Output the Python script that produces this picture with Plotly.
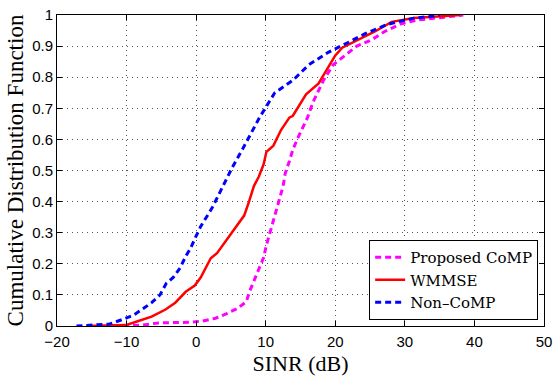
import plotly.graph_objects as go

# Proposed CoMP
prop_x = [-10.5, -7.8, -5.4, -3.6, -0.9, 0.9, 2.8, 4.4, 5.9, 7.2, 7.7, 8.4, 9.0, 9.7, 10.1, 10.5, 11.0, 11.5, 12.0,
          12.5, 12.8, 13.4, 13.9, 14.6, 15.3, 16.0, 16.8, 18.3, 19.7, 21.4, 23.1, 25.2, 27.1, 29.5, 31.8, 35.6, 38.4]
prop_y = [0.0, 0.003, 0.01, 0.01, 0.012, 0.016, 0.025, 0.04, 0.056, 0.078, 0.112, 0.15, 0.185, 0.22, 0.26, 0.29,
          0.33, 0.37, 0.41, 0.45, 0.49, 0.53, 0.567, 0.604, 0.64, 0.67, 0.72, 0.79, 0.84, 0.87, 0.90, 0.92, 0.947,
          0.972, 0.984, 0.993, 1.0]

# WMMSE
wm_x = [-15.8, -13.0, -10.1, -8.3, -6.4, -4.4, -3.0, -1.5, -0.2, 0.65, 1.6, 2.1, 3.0, 4.2, 5.5, 6.9, 7.6, 8.3, 9.0,
        9.7, 10.1, 11.1, 12.2, 13.4, 13.9, 15.8, 17.6, 19.0, 20.0, 21.0, 22.9, 25.7, 28.1, 31.3, 38.0]
wm_y = [0.0, 0.001, 0.003, 0.016, 0.03, 0.053, 0.075, 0.11, 0.13, 0.156, 0.2, 0.218, 0.234, 0.27, 0.31, 0.355, 0.40,
        0.45, 0.48, 0.52, 0.56, 0.58, 0.63, 0.67, 0.676, 0.745, 0.78, 0.83, 0.87, 0.895, 0.915, 0.947, 0.978, 0.99, 1.0]

# Non-CoMP
nc_x = [-17.2, -15.0, -12.5, -10.7, -9.0, -7.6, -6.4, -5.2, -4.3, -3.3, -2.3, -1.5, -0.8, -0.2, 0.65, 2.3, 3.8, 5.2,
        6.7, 8.3, 9.1, 11.3, 13.9, 16.2, 19.0, 21.7, 24.3, 27.5, 31.3, 33.5, 35.0]
nc_y = [0.0, 0.003, 0.006, 0.02, 0.035, 0.056, 0.075, 0.1, 0.137, 0.156, 0.187, 0.224, 0.25, 0.28, 0.32, 0.38, 0.45,
        0.51, 0.57, 0.64, 0.67, 0.75, 0.79, 0.84, 0.88, 0.91, 0.94, 0.97, 0.99, 0.995, 1.0]

x_ticks = [-20, -10, 0, 10, 20, 30, 40, 50]
y_ticks = [0, 0.1, 0.2, 0.3, 0.4, 0.5, 0.6, 0.7, 0.8, 0.9, 1]
y_labels = ["0", "0.1", "0.2", "0.3", "0.4", "0.5", "0.6", "0.7", "0.8", "0.9", "1"]

fig = go.Figure()
fig.add_trace(go.Scatter(x=prop_x, y=prop_y, mode="lines", name="Proposed CoMP",
                         line=dict(color="#ff00ff", width=3, dash="6px,4px")))
fig.add_trace(go.Scatter(x=wm_x, y=wm_y, mode="lines", name="WMMSE",
                         line=dict(color="#ff0000", width=2.5)))
fig.add_trace(go.Scatter(x=nc_x, y=nc_y, mode="lines", name="Non\u2013CoMP",
                         line=dict(color="#0000ff", width=3, dash="6px,4px")))

axis_common = dict(showline=True, linecolor="black", linewidth=1, mirror="allticks",
                   ticks="inside", ticklen=5, tickcolor="black",
                   showgrid=True, gridcolor="#555555", gridwidth=1, griddash="1px,4px",
                   zeroline=False, ticklabeloverflow="allow",
                   tickfont=dict(family="Liberation Sans", size=15, color="black"))

fig.update_xaxes(range=[-20, 50], tickvals=x_ticks, ticklabelstandoff=2,
                 title=dict(text="SINR (dB)", font=dict(family="Liberation Serif", size=22, color="black"),
                            standoff=6),
                 **axis_common)
fig.update_yaxes(range=[0, 1], tickvals=y_ticks, ticktext=y_labels,
                 title=dict(text="Cumulative Distribution Function",
                            font=dict(family="Liberation Serif", size=23, color="black"), standoff=2),
                 **axis_common)

fig.update_layout(
    width=558, height=377,
    margin=dict(l=57, r=6, t=6, b=50),
    plot_bgcolor="white", paper_bgcolor="white",
    legend=dict(x=0.988, y=0.019, xanchor="right", yanchor="bottom",
                bgcolor="white", bordercolor="black", borderwidth=1,
                font=dict(family="DejaVu Serif", size=15, color="black"),
                tracegroupgap=0, itemwidth=30),
    showlegend=True,
)

fig.write_html("out.html")
